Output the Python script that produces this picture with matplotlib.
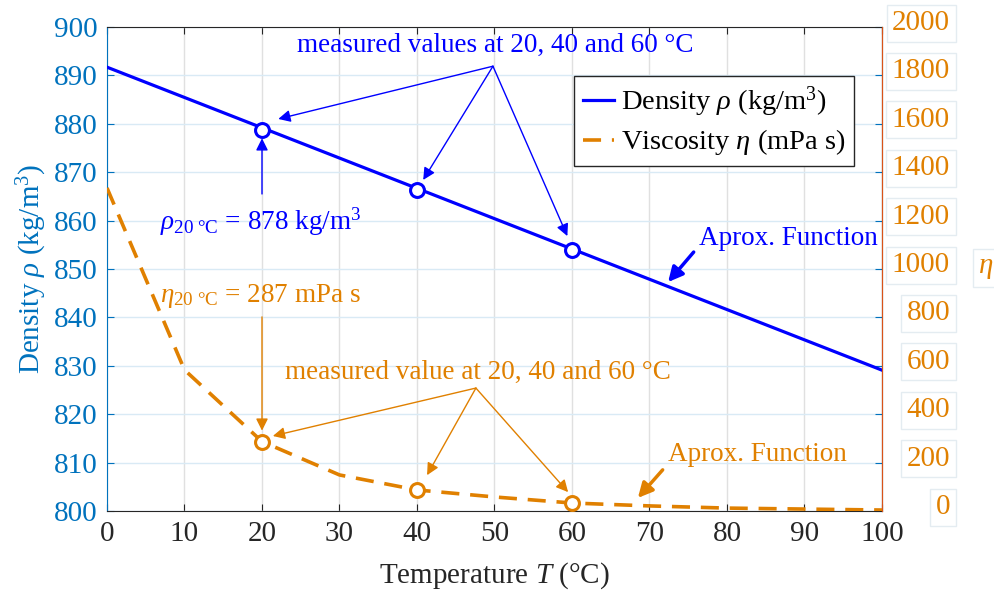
import matplotlib
matplotlib.use('Agg')
import matplotlib.pyplot as plt
import matplotlib.transforms as mtransforms
import numpy as np

# data
temp = [0, 100]
density = [891.7, 829.1]
meas_t = [20, 40, 60]
meas_rho = [878.7, 866.3, 853.9]

visc_t = [0, 10, 20, 30, 40, 50, 60, 70, 80, 90, 100]
visc = [1335, 583, 287, 149, 87, 58, 33, 21, 12, 8, 4]
meas_eta = [287, 87, 33]

xticks = list(range(0, 101, 10))
rho_ticks = list(range(800, 901, 10))
eta_ticks = list(range(0, 2001, 200))

blue = '#0000FF'
axblue = '#0072BD'
orange = '#E08000'
dark = '#262626'

plt.rcParams['font.family'] = ['Liberation Serif', 'DejaVu Serif']
plt.rcParams['mathtext.fontset'] = 'custom'
plt.rcParams['mathtext.rm'] = 'Liberation Serif'
plt.rcParams['mathtext.it'] = 'Liberation Serif:italic'
plt.rcParams['font.size'] = 21
ann_fs = 19.5

fig = plt.figure(figsize=(9.95, 5.92), dpi=100)
ax1 = fig.add_axes([107/995, 1 - 511/592, 775/995, 484/592])
ax2 = ax1.twinx()

# density
l1, = ax1.plot(temp, density, color=blue, lw=2.3, label=r'Density $\rho$ (kg/m$^3$)', zorder=3)
ax1.plot(meas_t, meas_rho, 'o', ms=10, mfc='white', mec=blue, mew=2.2, zorder=4)
ax1.set_xlim(0, 100)
ax1.set_ylim(800, 900)
ax1.set_xticks(xticks)
ax1.set_yticks(rho_ticks)
ax1.tick_params(axis='x', colors=dark, direction='in', length=5, top=True, pad=7)
ax1.tick_params(axis='y', colors=axblue, direction='in', length=5, right=True, pad=7)
ax1.set_xlabel(r'Temperature $T$ (°C)', color=dark, labelpad=10)
ax1.set_ylabel(r'Density $\rho$ (kg/m$^3$)', color=axblue, labelpad=3)
ax1.xaxis.grid(True, color='#e0e0e0', lw=1)
ax1.yaxis.grid(True, color='#d9eaf5', lw=1)
ax1.set_axisbelow(True)
ax1.spines['left'].set_color(axblue)
ax1.spines['bottom'].set_color(dark)
ax1.spines['top'].set_color(dark)

# viscosity
l2, = ax2.plot(visc_t, visc, color=orange, lw=2.6, ls=(0, (5, 3)),
               label=r'Viscosity $\eta$ (mPa s)', zorder=3)
ax2.plot(meas_t, meas_eta, 'o', ms=10, mfc='white', mec=orange, mew=2.2, zorder=4)
ax2.set_ylim(0, 2000)
ax2.set_yticks(eta_ticks)
ax2.tick_params(axis='y', colors=orange, length=0, pad=49)
ax2.spines['right'].set_color('#D95319')
ax2.spines['left'].set_visible(False)
ax2.spines['top'].set_visible(False)
ax2.spines['bottom'].set_visible(False)
shift = mtransforms.ScaledTranslation(0, 5/72, fig.dpi_scale_trans)
for lab in ax2.get_yticklabels():
    lab.set_ha('right')
    lab.set_bbox(dict(facecolor='white', edgecolor='#e4ecf1', lw=1, pad=4))
    lab.set_transform(lab.get_transform() + shift)
ax2.set_ylabel(r'$\eta$', color=orange, rotation=0, ha='left', va='center',
               bbox=dict(facecolor='white', edgecolor='#e4ecf1', lw=1, pad=4))
ax2.yaxis.set_label_coords(1.124, 0.502)

# blue annotations
ax1.text(50.1, 896.1, 'measured values at 20, 40 and 60 °C', color=blue,
         ha='center', va='center', fontsize=ann_fs)
for tx, ty in [(22.1, 881.0), (40.8, 868.4), (59.4, 856.8)]:
    ax1.annotate('', xy=(tx, ty), xytext=(49.8, 891.9),
                 arrowprops=dict(arrowstyle='-|>', color=blue, lw=1, mutation_scale=18,
                                 shrinkA=0, shrinkB=0))
ax1.text(6.8, 859.7, r'$\rho_{20\ \mathrm{°C}}$ = 878 kg/m$^3$', color=blue,
         ha='left', va='center', fontsize=ann_fs)
ax1.annotate('', xy=(20, 877.0), xytext=(20, 865.5),
             arrowprops=dict(arrowstyle='-|>', color=blue, lw=1, mutation_scale=18,
                             shrinkA=0, shrinkB=0))
ax1.text(87.9, 856.4, 'Aprox. Function', color=blue, ha='center', va='center',
         fontsize=ann_fs)
ax1.annotate('', xy=(72.4, 847.3), xytext=(75.7, 853.5),
             arrowprops=dict(arrowstyle='-|>', color=blue, lw=2.5, mutation_scale=22,
                             shrinkA=0, shrinkB=0))

# orange annotations
ax1.text(6.8, 844.4, r'$\eta_{20\ \mathrm{°C}}$ = 287 mPa s', color=orange,
         ha='left', va='center', fontsize=ann_fs)
ax1.annotate('', xy=(20, 816.6), xytext=(20, 840.1),
             arrowprops=dict(arrowstyle='-|>', color=orange, lw=1, mutation_scale=18,
                             shrinkA=0, shrinkB=0))
ax1.text(47.9, 828.7, 'measured value at 20, 40 and 60 °C', color=orange,
         ha='center', va='center', fontsize=ann_fs)
for tx, ty in [(21.4, 815.5), (41.3, 807.4), (59.5, 803.9)]:
    ax1.annotate('', xy=(tx, ty), xytext=(47.6, 825.4),
                 arrowprops=dict(arrowstyle='-|>', color=orange, lw=1, mutation_scale=18,
                                 shrinkA=0, shrinkB=0))
ax1.text(83.9, 811.6, 'Aprox. Function', color=orange, ha='center', va='center',
         fontsize=ann_fs)
ax1.annotate('', xy=(68.5, 802.7), xytext=(71.7, 808.5),
             arrowprops=dict(arrowstyle='-|>', color=orange, lw=2.5, mutation_scale=22,
                             shrinkA=0, shrinkB=0))

leg = ax2.legend(handles=[l1, l2], loc='upper left', bbox_to_anchor=(0.6026, 0.899),
                 borderaxespad=0, fancybox=False, framealpha=1, edgecolor=dark,
                 fontsize=20.5, handlelength=1.1, handletextpad=0.25, borderpad=0.3,
                 labelspacing=0.3)
leg.get_frame().set_linewidth(1)
leg.set_zorder(10)

fig.savefig('out.png', dpi=100)
